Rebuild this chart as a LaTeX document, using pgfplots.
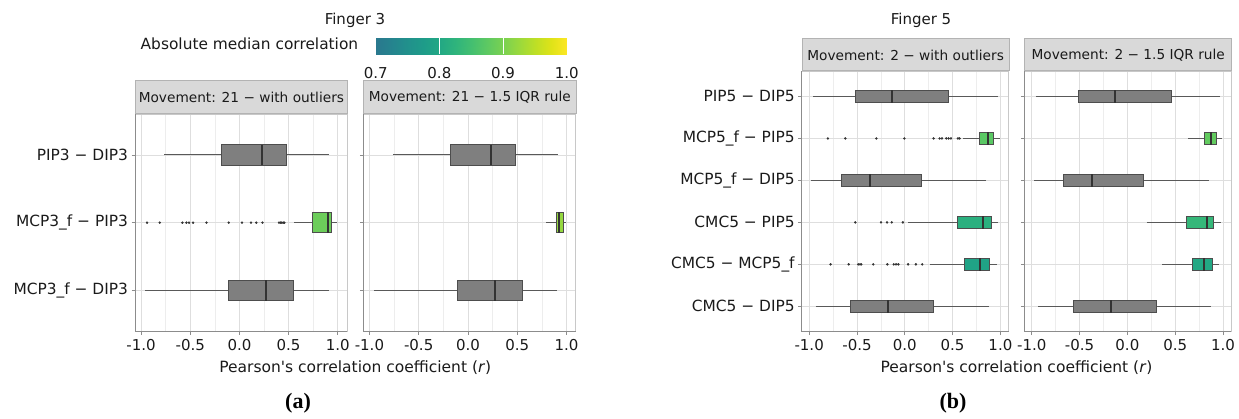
\documentclass[border=0pt]{standalone}
\usepackage{pgfplots}
\pgfplotsset{compat=1.18}
\usepgfplotslibrary{statistics}
\usepackage{fontspec}
\setmainfont{DejaVu Sans}[Ligatures=TeXOff]
\newfontfamily\capfont{Liberation Serif}

\definecolor{boxgrey}{HTML}{7F7F7F}
\definecolor{boxline}{HTML}{4D4D4D}
\definecolor{medline}{HTML}{333333}
\definecolor{whisk}{HTML}{595959}
\definecolor{dotc}{HTML}{333333}
\definecolor{gridmaj}{HTML}{DEDEDE}
\definecolor{gridmin}{HTML}{EDEDED}
\definecolor{axline}{HTML}{8C8C8C}
\definecolor{framec}{HTML}{C8C8C8}
\definecolor{stripfill}{HTML}{D9D9D9}
\definecolor{stripline}{HTML}{B3B3B3}
\definecolor{txt}{HTML}{1A1A1A}
% fills taken from the viridis scale at each absolute median
\definecolor{vA}{HTML}{6CCD5A}
\definecolor{vB}{HTML}{95D840}
\definecolor{vC}{HTML}{5AC864}
\definecolor{vD}{HTML}{2BB07F}
\definecolor{vE}{HTML}{20A386}
\definecolor{vF}{HTML}{62CB5F}
\definecolor{vG}{HTML}{35B779}
\definecolor{vH}{HTML}{22A884}

\pgfplotsset{
  colormap={vir}{rgb255=(42,120,142) rgb255=(37,132,142) rgb255=(33,145,140)
    rgb255=(30,156,137) rgb255=(34,168,132) rgb255=(47,180,124) rgb255=(68,191,112)
    rgb255=(94,201,98) rgb255=(122,209,81) rgb255=(155,217,60) rgb255=(189,223,38)
    rgb255=(223,227,24) rgb255=(253,231,37)},
  boxplot/every median/.style={draw=medline, line width=2pt},
  boxplot/every whisker/.style={draw=whisk, line width=1pt},
  facet/.style={
    scale only axis, anchor=south west, y dir=reverse,
    xtick={-1,-0.5,0,0.5,1}, xticklabels={-1.0,-0.5,0.0,0.5,1.0},
    minor x tick num=1,
    xmajorgrids, xminorgrids, ymajorgrids,
    major grid style={gridmaj, line width=0.8pt},
    minor grid style={gridmin, line width=0.5pt},
    axis line style={framec, line width=0.8pt},
    tick pos=left, tick align=outside,
    major tick length=3.5pt, minor tick length=0pt,
    tick style={axline, line width=0.8pt},
    xticklabel style={font=\fontsize{15}{18}\selectfont, text=txt, anchor=base, yshift=-15.5pt},
    yticklabel style={font=\fontsize{15.4}{18}\selectfont, text=txt},
    boxplot/draw direction=x,
    after end axis/.code={
      \draw[axline, line width=1pt] (rel axis cs:0,1) -- (rel axis cs:0,0) -- (rel axis cs:1,0);
    },
  },
  fingerA/.style={facet, width=212pt, height=216.7pt, xmin=-1.062, xmax=1.094,
    ymin=0.4, ymax=3.6, ytick={1,2,3}},
  fingerB/.style={facet, width=207pt, height=260.2pt, xmin=-1.078, xmax=1.087,
    ymin=0.4, ymax=6.6, ytick={1,2,3,4,5,6}},
  bxs/.style={draw=boxline, fill=#1, line width=1pt},
  outl/.style={only marks, mark=*, mark size=1pt, color=dotc},
}

% lower whisker, lower quartile, median, upper quartile, upper whisker
\newcommand{\bx}[7]{%
  \addplot[bxs=#1, boxplot prepared={draw position=#2, lower whisker=#3,
    lower quartile=#4, median=#5, upper quartile=#6, upper whisker=#7,
    box extend=0.3, whisker extend=0}] coordinates {};}

\begin{document}
\begin{tikzpicture}[x=1pt,y=1pt]
\path[use as bounding box] (0,0) rectangle (1239pt,418pt);

% ---------------- Finger 3 ----------------
\node[font=\fontsize{15}{18}\selectfont, text=txt, anchor=base] at (355pt,393pt) {Finger 3};
\node[font=\fontsize{15.4}{18}\selectfont, text=txt, anchor=base east] at (361.7pt,368pt) {Absolute median correlation};

\begin{axis}[at={(375.7pt,363.7pt)}, anchor=south west, scale only axis,
  width=191pt, height=16pt, xmin=0.7, xmax=1, ymin=0, ymax=1,
  colormap name=vir, point meta min=0.7, point meta max=1,
  axis line style={draw=none}, ytick=\empty,
  xtick={0.7,0.8,0.9,1.0}, xticklabels={0.7,0.8,0.9,1.0}, major tick length=0pt,
  xticklabel style={font=\fontsize{15}{18}\selectfont, text=txt, anchor=base, yshift=-24pt}]
  \addplot[surf, shader=interp, point meta=x, mesh/cols=2] coordinates {
    (0.7,0) (1,0)

    (0.7,1) (1,1)
  };
  \addplot[white, line width=1pt] coordinates {(0.8,0) (0.8,1)};
  \addplot[white, line width=1pt] coordinates {(0.9,0) (0.9,1)};
\end{axis}

\begin{axis}[fingerA, at={(135pt,87pt)},
  yticklabels={PIP3 − DIP3, MCP3\_f − PIP3, MCP3\_f − DIP3}]
  \bx{boxgrey}{1}{-0.766}{-0.183}{0.234}{0.478}{0.911}
  \bx{vA}{2}{0.555}{0.748}{0.900}{0.941}{0.992}
  \bx{boxgrey}{3}{-0.962}{-0.112}{0.274}{0.545}{0.908}
  \addplot[outl] coordinates {(-0.939,2) (-0.81,2) (-0.58,2) (-0.539,2) (-0.512,2)
    (-0.471,2) (-0.335,2) (-0.109,2) (0.026,2) (0.118,2) (0.172,2) (0.234,2)
    (0.403,2) (0.418,2) (0.43,2) (0.445,2) (0.457,2)};
\end{axis}
\node[draw=stripline, fill=stripfill, line width=0.8pt, minimum width=212pt, minimum height=33.3pt,
  inner sep=0pt, anchor=south west, font=\fontsize{13.7}{16}\selectfont, text=txt]
  at (135pt,303.7pt) {Movement: 21 − with outliers};

\begin{axis}[fingerA, at={(363.3pt,87pt)}, width=212.4pt, yticklabels={}]
  \bx{boxgrey}{1}{-0.763}{-0.178}{0.239}{0.482}{0.912}
  \bx{vB}{2}{0.797}{0.894}{0.929}{0.970}{0.997}
  \bx{boxgrey}{3}{-0.956}{-0.110}{0.277}{0.551}{0.904}
\end{axis}
\node[draw=stripline, fill=stripfill, line width=0.8pt, minimum width=212.4pt, minimum height=33.3pt,
  inner sep=0pt, anchor=south west, font=\fontsize{13.7}{16}\selectfont, text=txt]
  at (363.3pt,303.7pt) {Movement: 21 − 1.5 IQR rule};

\node[font=\fontsize{15.5}{18}\selectfont, text=txt, anchor=base] at (355.3pt,46pt)
  {Pearson's correlation coefficient (\textit{r})};
\node[font=\capfont\bfseries\fontsize{22}{26}\selectfont, anchor=base] at (298pt,10pt) {(a)};

% ---------------- Finger 5 ----------------
\node[font=\fontsize{15}{18}\selectfont, text=txt, anchor=base] at (921pt,393pt) {Finger 5};

\begin{axis}[fingerB, at={(801.7pt,86.5pt)},
  yticklabels={PIP5 − DIP5, MCP5\_f − PIP5, MCP5\_f − DIP5, CMC5 − PIP5, CMC5 − MCP5\_f, CMC5 − DIP5}]
  \bx{boxgrey}{1}{-0.958}{-0.517}{-0.136}{0.462}{0.979}
  \bx{vC}{2}{0.609}{0.783}{0.871}{0.923}{0.993}
  \bx{boxgrey}{3}{-0.979}{-0.667}{-0.363}{0.179}{0.850}
  \bx{vD}{4}{0.035}{0.549}{0.815}{0.903}{0.979}
  \bx{vE}{5}{0.266}{0.622}{0.783}{0.881}{0.965}
  \bx{boxgrey}{6}{-0.930}{-0.570}{-0.171}{0.305}{0.881}
  \addplot[outl] coordinates {(-0.804,2) (-0.622,2) (-0.297,2) (-0.004,2) (0.301,2)
    (0.364,2) (0.389,2) (0.434,2) (0.458,2) (0.483,2) (0.556,2) (0.573,2)};
  \addplot[outl] coordinates {(-0.517,4) (-0.248,4) (-0.185,4) (-0.136,4) (-0.02,4)};
  \addplot[outl] coordinates {(-0.776,5) (-0.587,5) (-0.486,5) (-0.468,5) (-0.455,5)
    (-0.329,5) (-0.182,5) (-0.115,5) (-0.091,5) (-0.067,5) (0.035,5) (0.116,5) (0.182,5)};
\end{axis}
\node[draw=stripline, fill=stripfill, line width=0.8pt, minimum width=207pt, minimum height=32pt,
  inner sep=0pt, anchor=south west, font=\fontsize{13.7}{16}\selectfont, text=txt]
  at (801.7pt,346.7pt) {Movement: 2 − with outliers};

\begin{axis}[fingerB, at={(1024.3pt,86.5pt)}, yticklabels={}]
  \bx{boxgrey}{1}{-0.955}{-0.514}{-0.130}{0.461}{0.973}
  \bx{vF}{2}{0.635}{0.802}{0.879}{0.931}{0.986}
  \bx{boxgrey}{3}{-0.976}{-0.670}{-0.367}{0.172}{0.851}
  \bx{vG}{4}{0.200}{0.618}{0.833}{0.903}{0.976}
  \bx{vH}{5}{0.367}{0.681}{0.799}{0.889}{0.958}
  \bx{boxgrey}{6}{-0.931}{-0.566}{-0.175}{0.305}{0.872}
\end{axis}
\node[draw=stripline, fill=stripfill, line width=0.8pt, minimum width=207pt, minimum height=32pt,
  inner sep=0pt, anchor=south west, font=\fontsize{13.7}{16}\selectfont, text=txt]
  at (1024.3pt,346.7pt) {Movement: 2 − 1.5 IQR rule};

\node[font=\fontsize{15.5}{18}\selectfont, text=txt, anchor=base] at (1016.5pt,46pt)
  {Pearson's correlation coefficient (\textit{r})};
\node[font=\capfont\bfseries\fontsize{22}{26}\selectfont, anchor=base] at (953pt,10pt) {(b)};
\end{tikzpicture}
\end{document}
